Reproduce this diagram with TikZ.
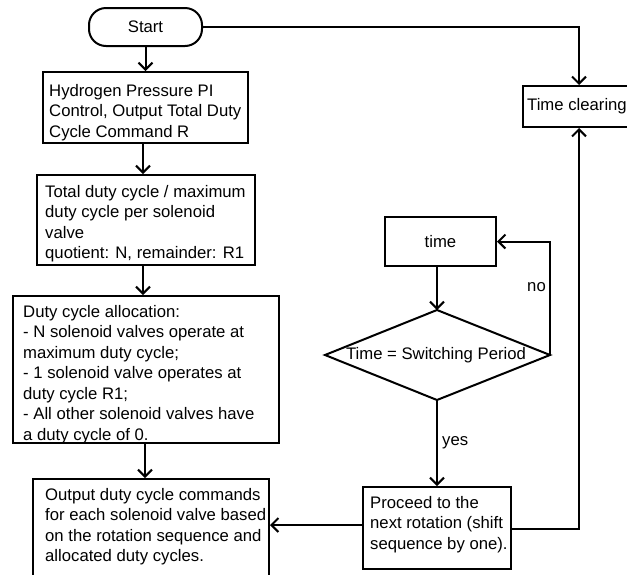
\documentclass[tikz,border=0pt]{standalone}
\usepackage{fontspec}
\setmainfont{Liberation Sans}
\usetikzlibrary{arrows.meta}

\tikzset{
  flow/.style={line width=2pt, draw=black},
  arr/.style={flow, -{Straight Barb[length=7pt,width=14pt,line width=2pt]}},
  box/.style={flow, rectangle, inner sep=0pt},
  txt/.style={inner sep=0pt, align=left, anchor=north west,
              font=\fontsize{16.7}{20.5}\selectfont},
  lbl/.style={inner sep=0pt, font=\fontsize{16.7}{20.5}\selectfont},
}

\begin{document}
\begin{tikzpicture}[x=1pt, y=-1pt]
  \useasboundingbox (0,0) rectangle (627,574);
  \clip (0,0) rectangle (627,574);

  % terminator
  \node[box, rounded corners=17pt, minimum width=113pt, minimum height=38pt,
        font=\fontsize{16.7}{20.5}\selectfont] (start) at (145.5,27) {Start};

  % left column of process boxes
  \node[box, minimum width=205pt, minimum height=71pt] (b1) at (145.5,107.5) {};
  \node[txt] (b1t) at (49,84) {Hydrogen Pressure PI\\Control, Output Total Duty\\Cycle Command R};

  \node[box, minimum width=218pt, minimum height=90pt] (b2) at (146,220) {};
  \node[txt] (b2t) at (45,185) {Total duty cycle / maximum\\duty cycle per solenoid\\valve\\quotient: N, remainder: R1};

  \node[box, minimum width=266pt, minimum height=147pt] (b3) at (146,369.5) {};
  \node[txt] (b3t) at (23,305) {Duty cycle allocation:\\- N solenoid valves operate at\\maximum duty cycle;\\- 1 solenoid valve operates at\\duty cycle R1;\\- All other solenoid valves have\\a duty cycle of 0.};

  \node[box, minimum width=236pt, minimum height=97pt] (b4) at (151,527.5) {};
  \node[txt] (b4t) at (45,488) {Output duty cycle commands\\for each solenoid valve based\\on the rotation sequence and\\allocated duty cycles.};

  % rotation loop on the right
  \node[box, minimum width=148pt, minimum height=82pt] (b5) at (437,528) {};
  \node[txt] (b5t) at (370,496) {Proceed to the\\next rotation (shift\\sequence by one).};

  \node[box, minimum width=111pt, minimum height=49pt,
        font=\fontsize{16.7}{20.5}\selectfont] (tbox) at (440.5,241.5) {time};

  % decision diamond (225 x 90)
  \coordinate (dN) at (437,310);
  \coordinate (dE) at (550,355);
  \coordinate (dS) at (437,400);
  \coordinate (dW) at (325,355);
  \draw[flow, line join=miter] (dN) -- (dE) -- (dS) -- (dW) -- cycle;
  \node[lbl] (dia) at (436,355) {Time = Switching Period};

  \node[box, minimum width=112pt, minimum height=41pt] (clr) at (579,106.5) {};
  \node[lbl] (clrt) at (577,106.5) {Time clearing};

  % connectors
  \draw[arr] (start.south) -- (start.south |- b1.north);
  \draw[arr] ([xshift=-2.5pt]b1.south) -- ([xshift=-2.5pt]b1.south |- b2.north);
  \draw[arr] ([xshift=-3pt]b2.south) -- ([xshift=-3pt]b2.south |- b3.north);
  \draw[arr] ([xshift=-1pt]b3.south) -- ([xshift=-1pt]b3.south |- b4.north);
  \draw[arr] (start.east) -| (clr.north);
  \draw[arr] ([yshift=-1pt]b5.east) -| (clr.south);
  \draw[arr] ([yshift=3pt]b5.west) -- ([yshift=3pt]b5.west -| b4.east);
  \draw[arr] (dN |- tbox.south) -- (dN);
  \draw[arr] (dE) -- (dE |- tbox.east) -- (tbox.east);
  \draw[arr] (dS) -- (dS |- b5.north);

  % branch labels
  \node[lbl] (nolbl) at (536.5,287) {no};
  \node[lbl, anchor=west] (yeslbl) at (442,443) {yes};
\end{tikzpicture}
\end{document}
